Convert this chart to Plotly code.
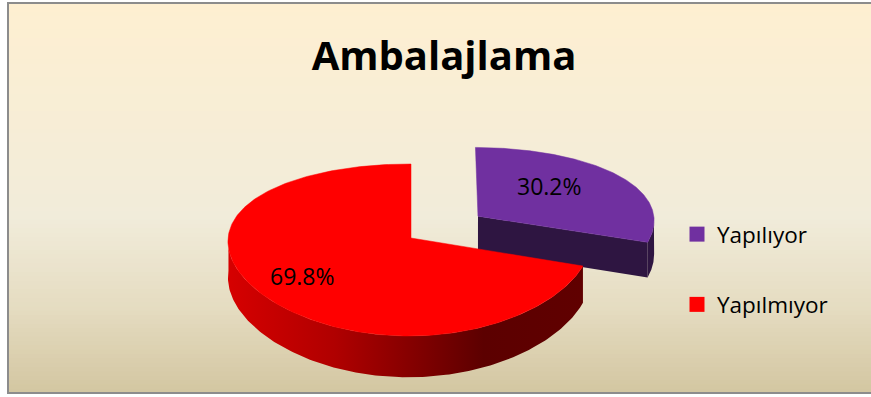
import numpy as np
import plotly.graph_objects as go

# ---- data ----
categories = ["Yapılıyor", "Yapılmıyor"]
values = [30.2, 69.8]
chart_title = "Ambalajlama"

# ---- styles ----
top_colors = ["#7030A0", "#FF0000"]
side_colors = ["#2E1541", "#8A0000"]
red_wall_scale = [[0.0, "#D60000"], [0.3, "#B00000"], [0.72, "#5C0000"], [1.0, "#600000"]]
explode = [0.462, 0.0]          # radial offset of each slice (in radius units)
label_r = [0.59, 0.72]          # distance of each percentage from the slice's apex
label_turn = [-9.4, 0.0]        # angular shift of the label from the mid-angle (deg)

W, H = 871, 397

# ---- 3D pie projection (mild perspective, pixel space) ----
CX, CY = 411.0, 238.0
RX, RY = 181.0, 84.3
KY, KX, KM = 0.1395, 0.04, 0.0104
DEPTH = 35.5


def project(X, Y, z):
    X = np.asarray(X, float)
    Y = np.asarray(Y, float)
    xd = 1 + KX * Y + KM * X
    yd = 1 + KY * Y + KM * X
    return CX + RX * X / xd, CY + (-RY * Y + DEPTH * z) / yd


def rim(theta_deg, ox, oy, z):
    t = np.radians(theta_deg)
    return project(ox + np.sin(t), oy + np.cos(t), z)


total = sum(values)
sweeps = [360.0 * v / total for v in values]
starts = np.concatenate([[0.0], np.cumsum(sweeps)[:-1]])

fig = go.Figure()

# background bands of the chart area
bg_stops = [(0.0, (254, 239, 209)), (0.55, (241, 236, 218)), (0.78, (229, 220, 193)), (1.0, (211, 198, 161))]


def bg_color(f):
    for (f0, c0), (f1, c1) in zip(bg_stops[:-1], bg_stops[1:]):
        if f <= f1:
            u = (f - f0) / (f1 - f0)
            return "rgb(%d,%d,%d)" % tuple(round(a + (b - a) * u) for a, b in zip(c0, c1))
    return "rgb(%d,%d,%d)" % bg_stops[-1][1]


shapes = []
top, bottom, nb = 3.0, 393.0, 90
for i in range(nb):
    y0 = top + (bottom - top) * i / nb
    y1 = top + (bottom - top) * (i + 1) / nb + 0.6
    shapes.append(dict(type="rect", xref="x", yref="y", x0=8, x1=W + 2, y0=y0, y1=min(y1, bottom),
                       fillcolor=bg_color((i + 0.5) / nb), line=dict(width=0), layer="below"))
shapes.append(dict(type="rect", xref="x", yref="y", x0=8, x1=W + 4, y0=top, y1=bottom,
                   line=dict(color="#8C8C8C", width=2), fillcolor="rgba(0,0,0,0)", layer="above"))

# draw farther slice (exploded one) first, then the front slice
order = sorted(range(len(values)), key=lambda i: -explode[i])
annotations = []
for i in order:
    a0, a1 = starts[i], starts[i] + sweeps[i]
    mid = np.radians((a0 + a1) / 2)
    ox, oy = explode[i] * np.sin(mid), explode[i] * np.cos(mid)

    # outer wall, front-facing part only
    w0, w1 = max(a0, 90.0), min(a1, 272.0)
    if w1 > w0:
        th = np.linspace(w0, w1, 160)
        xt, yt = rim(th, ox, oy, 0)
        xb, yb = rim(th[::-1], ox, oy, 1)
        xs = np.concatenate([xt, xb, xt[:1]])
        ys = np.concatenate([yt, yb, yt[:1]])
        kw = dict(fillcolor=side_colors[i])
        if i == 1:
            kw = dict(fillgradient=dict(type="horizontal", colorscale=red_wall_scale,
                                        start=float(xs.min()), stop=float(xs.max())))
        fig.add_trace(go.Scatter(x=xs, y=ys, fill="toself", mode="lines", line=dict(width=0),
                                 hoverinfo="skip", showlegend=False, **kw))

    # radial cut faces that face the viewer
    for edge, normal in ((a1, a1 + 90), (a0, a0 - 90)):
        if np.cos(np.radians(normal)) < -1e-6:
            cxt, cyt = project(ox, oy, 0)
            cxb, cyb = project(ox, oy, 1)
            rxt, ryt = rim(edge, ox, oy, 0)
            rxb, ryb = rim(edge, ox, oy, 1)
            fig.add_trace(go.Scatter(x=[cxt, rxt, rxb, cxb, cxt], y=[cyt, ryt, ryb, cyb, cyt],
                                     fill="toself", mode="lines", line=dict(width=0),
                                     fillcolor=side_colors[i], hoverinfo="skip", showlegend=False))

    # top face
    th = np.linspace(a0, a1, 240)
    xt, yt = rim(th, ox, oy, 0)
    cx0, cy0 = project(ox, oy, 0)
    fig.add_trace(go.Scatter(x=np.concatenate([[cx0], xt, [cx0]]), y=np.concatenate([[cy0], yt, [cy0]]),
                             fill="toself", mode="lines", line=dict(width=0.5, color=top_colors[i]),
                             fillcolor=top_colors[i], name=categories[i], hoverinfo="skip",
                             showlegend=False))

    # percentage label
    la = mid + np.radians(label_turn[i])
    lx, ly = project(ox + label_r[i] * np.sin(la), oy + label_r[i] * np.cos(la), 0)
    annotations.append(dict(x=float(lx), y=float(ly), xref="x", yref="y",
                            text=f"{100 * values[i] / total:.1f}%", showarrow=False,
                            font=dict(family="Open Sans", size=23, color="black")))

# legend entries
for name, col in zip(categories, top_colors):
    fig.add_trace(go.Scatter(x=[None], y=[None], mode="markers", name=name, legendgroup=name,
                             marker=dict(symbol="square", size=15, color=col)))

fig.update_layout(
    width=W, height=H,
    margin=dict(l=0, r=0, t=0, b=0),
    paper_bgcolor="white", plot_bgcolor="rgba(0,0,0,0)",
    xaxis=dict(range=[0, W], visible=False, fixedrange=True),
    yaxis=dict(range=[H, 0], visible=False, fixedrange=True),
    shapes=shapes,
    annotations=annotations,
    title=dict(text=f"<b>{chart_title}</b>", x=444 / W, xanchor="center", xref="paper",
               y=1 - 56 / H, yref="container", yanchor="middle",
               font=dict(family="Open Sans", size=40, color="black")),
    showlegend=True,
    legend=dict(x=677 / W, y=1 - 213 / H, xanchor="left", yanchor="top",
                bgcolor="rgba(0,0,0,0)", font=dict(family="Open Sans", size=22.5, color="black"),
                traceorder="grouped", tracegroupgap=38, itemwidth=30),
)

fig.write_html("out.html")
